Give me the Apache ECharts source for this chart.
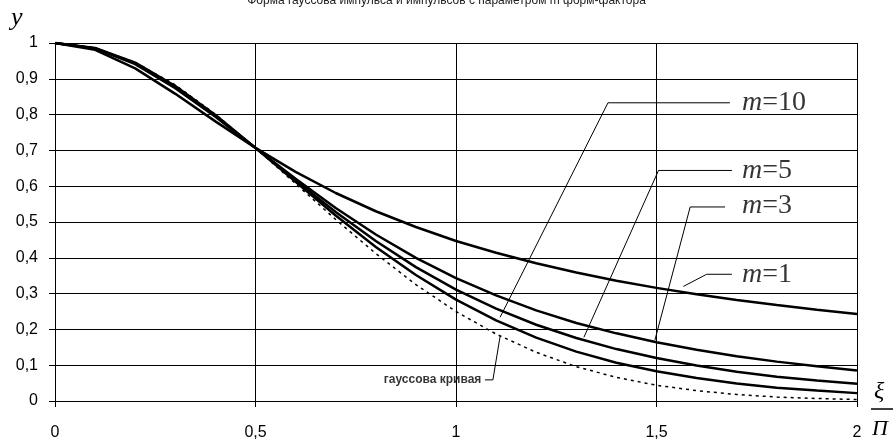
<!DOCTYPE html>
<html><head><meta charset="utf-8">
<script src="https://cdn.jsdelivr.net/npm/echarts@6/dist/echarts.min.js"></script>
<style>html,body{margin:0;padding:0;background:#fff}#c{width:893px;height:441px}</style>
</head><body><div id="c"></div>
<script>
// ---- data ----
const xValues = [0,0.1,0.2,0.3,0.4,0.5,0.6,0.7,0.8,0.9,1,1.1,1.2,1.3,1.4,1.5,1.6,1.7,1.8,1.9,2];
const gaussCurve = [1,0.986,0.946,0.883,0.801,0.707,0.607,0.507,0.412,0.325,0.25,0.187,0.136,0.096,0.066,0.044,0.029,0.018,0.011,0.007,0.004];
const m1Curve  = [1,0.981,0.929,0.858,0.781,0.707,0.640,0.581,0.530,0.486,0.447,0.414,0.385,0.359,0.336,0.316,0.298,0.282,0.268,0.255,0.243];
const m3Curve  = [1,0.985,0.941,0.874,0.794,0.707,0.621,0.539,0.465,0.400,0.343,0.295,0.253,0.218,0.189,0.164,0.143,0.125,0.110,0.097,0.085];
const m5Curve  = [1,0.985,0.943,0.878,0.797,0.707,0.616,0.528,0.447,0.374,0.311,0.258,0.213,0.176,0.145,0.120,0.099,0.082,0.068,0.057,0.048];
const m10Curve = [1,0.986,0.945,0.880,0.799,0.707,0.612,0.518,0.430,0.352,0.283,0.225,0.177,0.138,0.107,0.083,0.064,0.049,0.037,0.029,0.022];
const xTickLabels = ['0','0,5','1','1,5','2'];
const yTickLabels = ['0','0,1','0,2','0,3','0,4','0,5','0,6','0,7','0,8','0,9','1'];
const titleText = 'Форма гауссова импульса и импульсов с параметром m форм-фактора';
// annotation leader lines (data coordinates)
const mLabelX = 1.712;
const labelM10 = {m:'10', y:0.833, path:[[1.683,0.833],[1.379,0.833],[1.110,0.234]]};
const labelM5  = {m:'5',  y:0.644, path:[[1.688,0.644],[1.505,0.644],[1.319,0.178]]};
const labelM3  = {m:'3',  y:0.545, path:[[1.671,0.542],[1.584,0.542],[1.496,0.170]]};
const labelM1  = {m:'1',  y:0.354, path:[[1.688,0.354],[1.625,0.354],[1.567,0.320]]};
const labelGauss = {text:'гауссова кривая', path:[[1.072,0.059],[1.092,0.059],[1.110,0.181]]};

const chart = echarts.init(document.getElementById('c'), null, {renderer:'canvas'});
const toPairs = arr => xValues.map((x,i)=>[x,arr[i]]);
const tickFont = {fontFamily:"'Liberation Sans', Arial, sans-serif", fontSize:16, color:'#000'};
const serif = "'Liberation Serif','Times New Roman',serif";

function curve(name, arr, dotted){
  return {name, type:'line', data:toPairs(arr), symbol:'none', silent:true, z:5,
    lineStyle:{color:'#000', width: dotted?1.5:2.5, type: dotted?[3,4]:'solid'}};
}
function leader(path){
  return {type:'line', data:path, symbol:'none', silent:true, z:4,
    lineStyle:{color:'#000', width:1}};
}
const mLabels = [labelM10,labelM5,labelM3,labelM1];
const series = [
  curve('gauss', gaussCurve, true),
  curve('m=1', m1Curve), curve('m=3', m3Curve), curve('m=5', m5Curve), curve('m=10', m10Curve),
  ...mLabels.map(l=>leader(l.path)),
  leader(labelGauss.path),
  {type:'scatter', symbolSize:1, silent:true, itemStyle:{color:'rgba(0,0,0,0)'}, z:6,
   data: mLabels.map(l=>({value:[mLabelX, l.y], name:l.m})),
   label:{show:true, position:'right', distance:0,
     formatter: p => '{i|m}{n|=' + p.name + '}',
     rich:{i:{fontFamily:serif, fontStyle:'italic', fontSize:28, color:'#000'},
           n:{fontFamily:serif, fontSize:28, color:'#000'}}}},
  {type:'scatter', symbolSize:1, silent:true, itemStyle:{color:'rgba(0,0,0,0)'}, z:6,
   data:[{value:labelGauss.path[0], name:labelGauss.text}],
   label:{show:true, position:'left', distance:3, formatter:p=>p.name,
     fontFamily:"'Liberation Sans', Arial, sans-serif", fontWeight:'bold', fontSize:12, color:'#000'}}
];

chart.setOption({
  animation:false,
  backgroundColor:'#fff',
  title:{text:titleText, left:'center', top:-10, textStyle:{fontFamily:"'Liberation Sans', Arial, sans-serif", fontSize:12, fontWeight:'normal', color:'#222'}},
  grid:{left:55, right:36, top:43, bottom:39},
  xAxis:{type:'value', min:0, max:2, interval:0.5,
    axisLine:{lineStyle:{color:'#000', width:1}},
    axisTick:{show:true, length:6, lineStyle:{color:'#000'}},
    splitLine:{show:true, lineStyle:{color:'#000', width:1}},
    axisLabel:Object.assign({margin:24, formatter:(v)=>xTickLabels[Math.round(v/0.5)]}, tickFont)},
  yAxis:{type:'value', min:0, max:1, interval:0.1,
    axisLine:{show:true, lineStyle:{color:'#000', width:1}},
    axisTick:{show:true, length:6, lineStyle:{color:'#000'}},
    splitLine:{show:true, lineStyle:{color:'#000', width:1}},
    axisLabel:Object.assign({margin:17, formatter:(v)=>yTickLabels[Math.round(v*10)]}, tickFont)},
  graphic:[
    {type:'text', left:11, top:5, style:{text:'y', fontFamily:serif, fontStyle:'italic', fontSize:26, fill:'#000'}},
    {type:'text', left:874, top:380, style:{text:'ξ', fontFamily:serif, fontStyle:'italic', fontSize:24, fill:'#000'}},
    {type:'line', shape:{x1:871, y1:409, x2:893, y2:409}, style:{stroke:'#000', lineWidth:1.5}},
    {type:'text', left:872, top:418, style:{text:'Π', fontFamily:serif, fontStyle:'italic', fontSize:22, fill:'#000'}}
  ],
  series
});
</script></body></html>
